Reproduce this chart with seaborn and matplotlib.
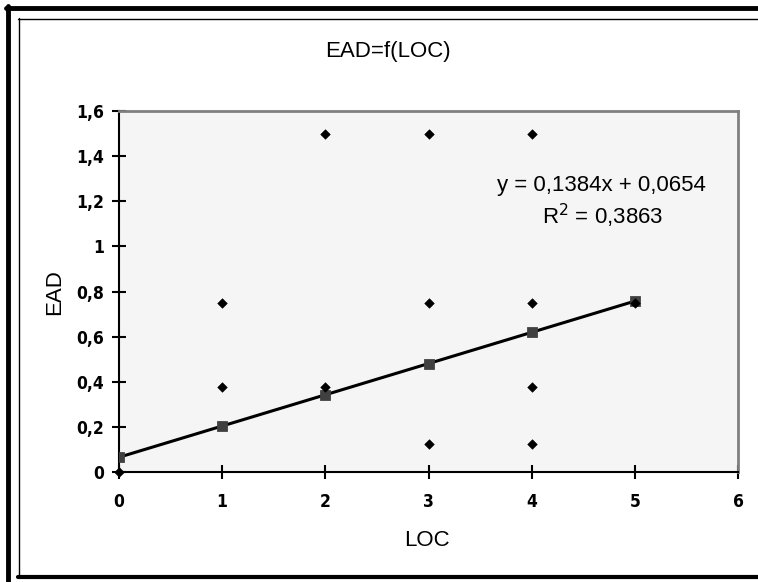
import numpy as np
import pandas as pd
import seaborn as sns
import matplotlib.pyplot as plt
from matplotlib.lines import Line2D
from matplotlib import font_manager

# observed points
loc = [0, 1, 1, 2, 2, 3, 3, 3, 4, 4, 4, 4, 5]
ead = [0, 0.375, 0.75, 0.375, 1.5, 0.125, 0.75, 1.5, 0.125, 0.375, 0.75, 1.5, 0.75]

# trendline points (as drawn)
trend_x = [0, 1, 2, 3, 4, 5]
trend_y = [0.0654, 0.2038, 0.3422, 0.4806, 0.6190, 0.7574]

x_ticks = [0, 1, 2, 3, 4, 5, 6]
y_ticks = [0, 0.2, 0.4, 0.6, 0.8, 1, 1.2, 1.4, 1.6]
y_labels = ['0', '0,2', '0,4', '0,6', '0,8', '1', '1,2', '1,4', '1,6']

sns.set_theme(style="white")
plt.rcParams['font.family'] = ['Liberation Sans', 'DejaVu Sans']
plt.rcParams['text.color'] = 'black'
plt.rcParams['xtick.color'] = 'black'
plt.rcParams['ytick.color'] = 'black'

names = {f.name for f in font_manager.fontManager.ttflist}

fig = plt.figure(figsize=(7.58, 5.82), dpi=100)
W, H = 758, 582
ax = fig.add_axes([119 / W, 1 - 472 / H, (738 - 119) / W, (472 - 111) / H])
ax.set_facecolor('#f5f5f5')

df = pd.DataFrame({'LOC': loc, 'EAD': ead})
tr = pd.DataFrame({'x': trend_x, 'y': trend_y})

sns.lineplot(data=tr, x='x', y='y', ax=ax, color='black', linewidth=2.2,
             zorder=2, sort=False)
sns.scatterplot(data=tr, x='x', y='y', ax=ax, marker='s', s=50,
                color='#404040', edgecolor='#404040', zorder=3)
sns.scatterplot(data=df, x='LOC', y='EAD', ax=ax, marker='D', s=24,
                color='black', edgecolor='black', zorder=4, clip_on=False)

ax.set_xlim(0, 6)
ax.set_ylim(0, 1.6)
ax.set_xticks(x_ticks)
ax.set_xticklabels([str(t) for t in x_ticks])
ax.set_yticks(y_ticks)
ax.set_yticklabels(y_labels)
ax.set_xlabel('')
ax.set_ylabel('')

if 'Liberation Sans Narrow' in names:
    tick_fam = 'Liberation Sans Narrow'
    stretch = 'normal'
else:
    tick_fam = 'DejaVu Sans'
    stretch = 'condensed'
for lab in ax.get_xticklabels() + ax.get_yticklabels():
    lab.set_family(tick_fam)
    lab.set_stretch(stretch)
    lab.set_fontsize(12.5)
    lab.set_fontweight('bold')
    lab.set_color('black')

ax.tick_params(axis='both', direction='inout', length=10, width=1.5,
               color='black', bottom=True, left=True)
ax.tick_params(axis='x', pad=10)
ax.tick_params(axis='y', pad=6)

for s in ['left', 'bottom']:
    ax.spines[s].set_color('black')
    ax.spines[s].set_linewidth(1.5)
for s in ['top', 'right']:
    ax.spines[s].set_color('#808080')
    ax.spines[s].set_linewidth(2)

ax.text(0.779, 0.795, 'y = 0,1384x + 0,0654', transform=ax.transAxes,
        ha='center', va='center', fontsize=16)
ax.text(0.781, 0.710, 'R$^2$ = 0,3863', transform=ax.transAxes,
        ha='center', va='center', fontsize=16)

fig.text(388 / W, 1 - 51 / H, 'EAD=f(LOC)', ha='center', va='center', fontsize=16)
fig.text(55 / W, 1 - 292 / H, 'EAD', ha='center', va='center', fontsize=16,
         rotation=90)
fig.text(427 / W, 1 - 541 / H, 'LOC', ha='center', va='center', fontsize=16)

# chart frames
def hline(y, x0, x1, lw):
    fig.add_artist(Line2D([x0 / W, x1 / W], [1 - y / H, 1 - y / H],
                          color='black', linewidth=lw, transform=fig.transFigure))

def vline(x, y0, y1, lw):
    fig.add_artist(Line2D([x / W, x / W], [1 - y0 / H, 1 - y1 / H],
                          color='black', linewidth=lw, transform=fig.transFigure))

hline(8, 6, 758, 3.5)
vline(8, 6, 582, 3.5)
hline(18.5, 18, 758, 1)
vline(18.5, 18, 577, 1)
hline(577, 18, 758, 3)

fig.savefig('out.png', dpi=100)
